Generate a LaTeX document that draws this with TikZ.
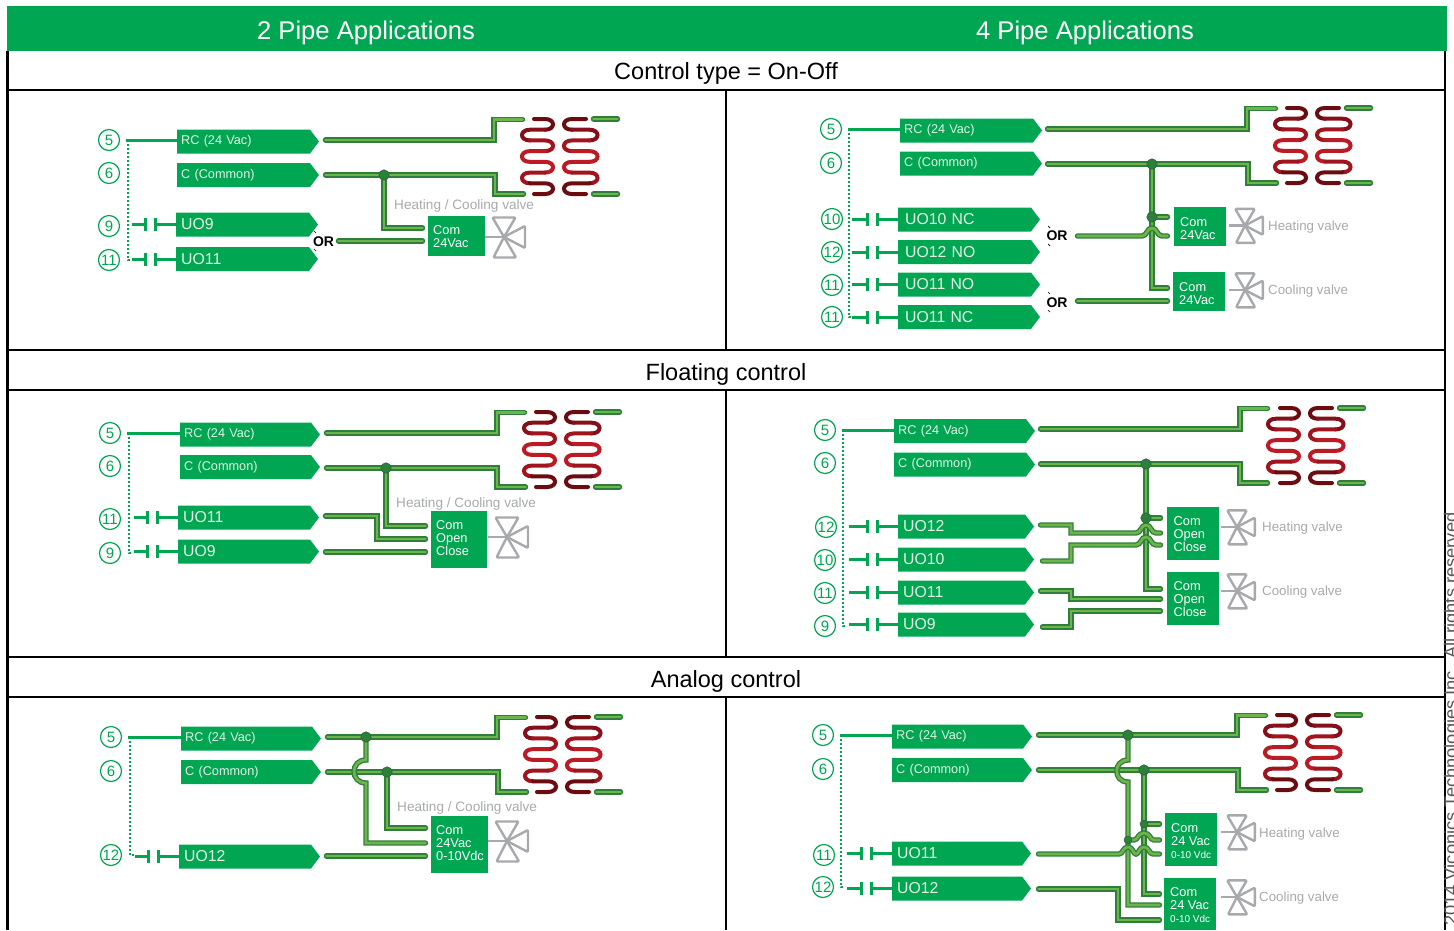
\documentclass[tikz,border=0pt]{standalone}
\usepackage{fontspec}
\setmainfont{Liberation Sans}
\definecolor{brand}{HTML}{00A651}
\definecolor{pipedark}{HTML}{2F7F3C}
\definecolor{pipelight}{HTML}{6DB54B}
\definecolor{valvegray}{HTML}{A7A9AC}
\definecolor{tagtextc}{HTML}{E4F3E6}
\definecolor{coilA}{HTML}{6A0C10}
\definecolor{coilB}{HTML}{85101A}
\definecolor{coilC}{HTML}{A0141E}
\definecolor{coilD}{HTML}{BC1A24}
\tikzset{
  framing/.style={draw=black,line width=2.4pt},
  title/.style={font=\fontsize{23.5}{26}\selectfont,inner sep=0pt},
  headline/.style={font=\fontsize{25.6}{28}\selectfont,text=white,inner sep=0pt},
  tagfill/.style={fill=brand},
  tagtext/.style={anchor=west,inner sep=0pt,inner xsep=4pt,minimum height=24pt,text=tagtextc,align=left},
  tagS/.style={font=\fontsize{12.7}{14}\selectfont},
  tagL/.style={font=\fontsize{15.8}{17}\selectfont,inner xsep=5pt},
  numcirc/.style={circle,draw=brand,fill=white,line width=1.2pt,minimum size=21pt,inner sep=0pt,text=brand,font=\fontsize{15}{16}\selectfont},
  wire/.style={draw=brand,line width=3pt},
  dotwire/.style={draw=brand,line width=2.6pt,dash pattern=on 2pt off 2pt},
  pipeline/.style={draw=pipedark,double=pipelight,double distance=2.7pt,line width=1.35pt,line cap=round,line join=miter,shorten <=2.5pt,shorten >=2.5pt},
  junct/.style={circle,fill=pipedark,draw=pipedark!80!black,line width=.5pt,minimum size=10.5pt,inner sep=0pt},
  vbxnode/.style={anchor=north west,fill=brand,inner sep=0pt},
  vbxtext/.style={anchor=west,xshift=5.5pt,text=white,inner sep=0pt,align=left,font=\fontsize{12.8}{13}\selectfont},
  valvest/.style={draw=valvegray,line width=2.4pt,line join=round,rounded corners=1pt},
  vlabel/.style={anchor=west,yshift=-1pt,inner sep=0pt,text=valvegray,font=\fontsize{13.3}{15}\selectfont},
  hclabel/.style={anchor=west,inner sep=0pt,text=valvegray,font=\fontsize{13.6}{15}\selectfont},
  orlab/.style={inner sep=0pt,font=\bfseries\fontsize{14}{15}\selectfont},
  ormark/.style={draw=black,line width=.7pt},
  coilst/.style={line width=4pt,line cap=round}
}
\newcommand\tagbox[6]{%
  \fill[tagfill] (#2,#3-12) -- (#2+#4-9,#3-12) -- (#2+#4,#3) -- (#2+#4-9,#3+12) -- (#2,#3+12) -- cycle;
  \node[tagtext,#5,text width={(#4-10)*1pt}] (#1) at (#2,#3) {\raisebox{-2pt}{#6}};}
\newcommand\contact[2]{%
  \draw[wire] ([xshift=-31-#2]#1.west) -- ([xshift=-31]#1.west);
  \draw[wire] ([xshift=-31,yshift=6.5]#1.west) -- ([xshift=-31,yshift=-6.5]#1.west);
  \draw[wire] ([xshift=-21,yshift=6.5]#1.west) -- ([xshift=-21,yshift=-6.5]#1.west);
  \draw[wire] ([xshift=-21]#1.west) -- (#1.west);}
\newcommand\vbx[7][]{%
  \node[vbxnode,minimum width={(#4-#2)*1pt},minimum height={(#5-#3)*1pt}] (#6) at (#2,#3) {};
  \node[vbxtext,#1] (#6t) at (#6.west) {#7};}
\newcommand\valvesym[3]{%
  \begin{scope}[shift={(#1,#2)},scale=#3]
    \draw[valvest] (-11.5,-19.5) -- (11.5,-19.5) -- (0,0) -- cycle;
    \draw[valvest] (21,-11) -- (21,11) -- (0,0) -- cycle;
    \draw[valvest] (-10.5,20.5) -- (12,20.5) -- (0,0) -- cycle;
    \draw[draw=valvegray,line width=2.4pt] (-19,0) -- (0,0);
  \end{scope}}
\newcommand\hop[2]{ -- (#1-10,#2) .. controls (#1-5,#2) and (#1-5,#2-8) .. (#1,#2-8) .. controls (#1+5,#2-8) and (#1+5,#2) .. (#1+10,#2)}
\newcommand\coilone[4]{% open end, first-side x, second-side x, control offset
  \foreach \i/\col in {0/coilA,1/coilB,2/coilC,3/coilD,4/coilD,5/coilC,6/coilA}{%
    \pgfmathsetmacro\ya{119+\i*10.714}
    \pgfmathsetmacro\yb{119+(\i+1)*10.714}
    \ifnum\i=0
      \draw[coilst,draw=\col] (#1,\ya) -- (#2,\ya) .. controls (#2+#4,\ya) and (#2+#4,\yb) .. (#2,\yb);
    \else\ifnum\i=6
      \draw[coilst,draw=\col] (#3,\ya) -- (#2,\ya) .. controls (#2+#4,\ya) and (#2+#4,\yb) .. (#2,\yb) -- (#1,\yb);
    \else\ifodd\i
      \draw[coilst,draw=\col] (#2,\ya) -- (#3,\ya) .. controls (#3-#4,\ya) and (#3-#4,\yb) .. (#3,\yb);
    \else
      \draw[coilst,draw=\col] (#3,\ya) -- (#2,\ya) .. controls (#2+#4,\ya) and (#2+#4,\yb) .. (#2,\yb);
    \fi\fi\fi}}
\newcommand\coilpair[2]{%
  \begin{scope}[shift={(#1,#2)}]
    \coilone{534}{545}{530}{10.7}
    \coilone{586}{572}{589.5}{-10.7}
    \draw[pipeline] (591,119) -- (620,119);
    \draw[pipeline] (591,194) -- (620,194);
  \end{scope}}
\newcommand\ormarks[2]{%
  \draw[ormark] (#1-1,#2-1) -- (#1+1,#2+1);}
\begin{document}
\begin{tikzpicture}[x=1pt,y=-1pt]
\useasboundingbox (0,0) rectangle (1454,930);
% frame
\fill[brand] (6.5,6) rectangle (1447,51);
\draw[framing] (7.5,51) -- (7.5,930);
\draw[framing] (1445,51) -- (1445,930);
\draw[framing] (7.5,90) -- (1445,90);
\draw[framing] (7.5,350) -- (1445,350);
\draw[framing] (7.5,390) -- (1445,390);
\draw[framing] (7.5,657) -- (1445,657);
\draw[framing] (7.5,697) -- (1445,697);
\draw[framing] (726,90) -- (726,350);
\draw[framing] (726,390) -- (726,657);
\draw[framing] (726,697) -- (726,930);
\node[headline] (h2) at (366,32.5) {2 Pipe Applications};
\node[headline] (h4) at (1085,32.5) {4 Pipe Applications};
\node[title] (t1) at (726,73.5) {Control type = On-Off};
\node[title] (t2) at (726,374.5) {Floating control};
\node[title] (t3) at (726,681.5) {Analog control};
\node[rotate=90,anchor=base west,inner sep=0pt,text=black!65,font=\fontsize{18.3}{19}\selectfont] (copyr) at (1457,926) {2014 Viconics Technologies Inc. All rights reserved};

%%%%% Panel A
\node[numcirc] (ac1) at (109,140) {5};
\node[numcirc] (ac2) at (109,173) {6};
\node[numcirc] (ac3) at (109,226) {9};
\node[numcirc] (ac4) at (109,260) {11};
\tagbox{at1}{177}{141.5}{142}{tagS}{RC (24 Vac)}
\tagbox{at2}{177}{175}{142}{tagS}{C (Common)}
\tagbox{at3}{176}{224.5}{142}{tagL}{UO9}
\tagbox{at4}{176}{259}{142}{tagL}{UO11}
\draw[wire] ([xshift=6]ac1.east) -- (ac1.east -| at1.west);
\draw[dotwire] ([xshift=8]ac1.east) -- ([xshift=8]ac4.east) -- ++(4,0);
\contact{at3}{13}
\contact{at4}{13}
\node[orlab] (aor) at (323.5,242) {OR};
\ormarks{315}{232}\ormarks{315}{250}
\vbx[xshift=-.5pt]{428}{216}{485}{256}{ab}{Com\\24Vac}
\valvesym{504}{237}{1}
\node[hclabel] (al) at (394,205.5) {Heating / Cooling valve};
\coordinate (aj) at (384,175);
\coordinate (ae1) at (425,228);
\coordinate (ae2) at (425,241);
\coordinate (as1) at (323,140);
\coordinate (as2) at (323,175);
\coordinate (as3) at (336,241);
\coilpair{0}{0}
\draw[pipeline] (as1) -- (494,140) -- (494,119.5) -- (525,119.5);
\draw[pipeline] (as2) -- (495,175) -- (495,194) -- (526,194);
\draw[pipeline] (aj) |- (ae1);
\draw[pipeline] (as3) -- (ae2);
\node[junct] (ajn) at (aj) {};

%%%%% Panel B
\node[numcirc] (bc1) at (831,129) {5};
\node[numcirc] (bc2) at (831,163) {6};
\node[numcirc] (bc3) at (832,219) {10};
\node[numcirc] (bc4) at (832,252) {12};
\node[numcirc] (bc5) at (832,285) {11};
\node[numcirc] (bc6) at (832,317) {11};
\tagbox{bt1}{900}{130.5}{142}{tagS}{RC (24 Vac)}
\tagbox{bt2}{900}{163.5}{142}{tagS}{C (Common)}
\tagbox{bt3}{898}{219.5}{142}{tagL,inner xsep=7pt}{UO10 NC}
\tagbox{bt4}{898}{252}{142}{tagL,inner xsep=7pt}{UO12 NO}
\tagbox{bt5}{898}{284.5}{142}{tagL,inner xsep=7pt}{UO11 NO}
\tagbox{bt6}{898}{317}{142}{tagL,inner xsep=7pt}{UO11 NC}
\draw[wire] ([xshift=6]bc1.east) -- (bc1.east -| bt1.west);
\draw[dotwire] ([xshift=7]bc1.east) -- ([xshift=6]bc6.east) -- ++(4,0);
\contact{bt3}{15}
\contact{bt4}{15}
\contact{bt5}{15}
\contact{bt6}{15}
\node[orlab] (bor1) at (1057,236) {OR};
\node[orlab] (bor2) at (1057,303) {OR};
\ormarks{1049}{227}\ormarks{1049}{245}\ormarks{1049}{293}\ormarks{1049}{311}
\vbx[xshift=.5pt,yshift=-2pt]{1174}{207}{1226}{246}{bb1}{Com\\24Vac}
\vbx[xshift=.5pt,yshift=-2pt]{1173}{272}{1225}{311}{bb2}{Com\\24Vac}
\valvesym{1245}{225.5}{.85}
\valvesym{1245}{290}{.85}
\node[vlabel] (bl1) at (1268,226) {Heating valve};
\node[vlabel] (bl2) at (1268,290) {Cooling valve};
\coordinate (bj1) at (1152,164);
\coordinate (bj2) at (1152,217);
\coordinate (bs1) at (1045,129);
\coordinate (bs2) at (1045,164);
\coordinate (bs3) at (1075,236);
\coordinate (bs4) at (1075,301);
\coordinate (be1) at (1170,217);
\coordinate (be2) at (1170,236);
\coordinate (be3) at (1170,288);
\coordinate (be4) at (1170,301);
\coilpair{753}{-11}
\draw[pipeline] (bs1) -- (1247,129) -- (1247,108.5) -- (1278,108.5);
\draw[pipeline] (bs2) -- (1248,164) -- (1248,183) -- (1279,183);
\draw[pipeline] (bj1) |- (be3);
\draw[pipeline] (bj2) -- (be1);
\draw[pipeline] (bs3) \hop{1152}{236} -- (be2);
\draw[pipeline] (bs4) -- (be4);
\node[junct] (bj1n) at (bj1) {};
\node[junct] (bj2n) at (bj2) {};

%%%%% Panel C
\node[numcirc] (cc1) at (110,433) {5};
\node[numcirc] (cc2) at (110,466) {6};
\node[numcirc] (cc3) at (110,519) {11};
\node[numcirc] (cc4) at (110,553) {9};
\tagbox{ct1}{180}{434.5}{140}{tagS}{RC (24 Vac)}
\tagbox{ct2}{180}{467}{140}{tagS}{C (Common)}
\tagbox{ct3}{178}{517.5}{141}{tagL}{UO11}
\tagbox{ct4}{178}{551.5}{141}{tagL}{UO9}
\draw[wire] ([xshift=6]cc1.east) -- (cc1.east -| ct1.west);
\draw[dotwire] ([xshift=8]cc1.east) -- ([xshift=8]cc4.east) -- ++(4,0);
\contact{ct3}{13}
\contact{ct4}{13}
\vbx[xshift=-.5pt,yshift=1.5pt]{431}{511}{487}{568}{cb}{Com\\Open\\Close}
\valvesym{507}{537}{1}
\node[hclabel] (cl) at (396,503.5) {Heating / Cooling valve};
\coordinate (cj) at (386,468);
\coordinate (cs1) at (324,433);
\coordinate (cs2) at (324,468);
\coordinate (cs3) at (323,516);
\coordinate (cs4) at (323,552);
\coordinate (ce1) at (428,526);
\coordinate (ce2) at (428,539);
\coordinate (ce3) at (428,552);
\coilpair{2}{293}
\draw[pipeline] (cs1) -- (497,433) -- (497,412.5) -- (527,412.5);
\draw[pipeline] (cs2) -- (497,468) -- (497,487) -- (528,487);
\draw[pipeline] (cj) |- (ce1);
\draw[pipeline] (cs3) -- (377,516) -- (377,539) -- (ce2);
\draw[pipeline] (cs4) -- (ce3);
\node[junct] (cjn) at (cj) {};

%%%%% Panel D
\node[numcirc] (dc1) at (825,430) {5};
\node[numcirc] (dc2) at (825,463) {6};
\node[numcirc] (dc3) at (826,527) {12};
\node[numcirc] (dc4) at (825,560) {10};
\node[numcirc] (dc5) at (825,593) {11};
\node[numcirc] (dc6) at (825,626) {9};
\tagbox{dt1}{894}{431}{141}{tagS}{RC (24 Vac)}
\tagbox{dt2}{894}{464.5}{141}{tagS}{C (Common)}
\tagbox{dt3}{898}{526.5}{136}{tagL}{UO12}
\tagbox{dt4}{898}{559.5}{136}{tagL}{UO10}
\tagbox{dt5}{898}{592.5}{136}{tagL}{UO11}
\tagbox{dt6}{898}{624.5}{136}{tagL}{UO9}
\draw[wire] ([xshift=6]dc1.east) -- (dc1.east -| dt1.west);
\draw[dotwire] ([xshift=7]dc1.east) -- ([xshift=7]dc6.east) -- ++(4,0);
\contact{dt3}{18}
\contact{dt4}{18}
\contact{dt5}{18}
\contact{dt6}{18}
\vbx[xshift=1pt,yshift=-.5pt]{1167}{507}{1219}{560}{db1}{Com\\Open\\Close}
\vbx[xshift=1pt,yshift=-.5pt]{1167}{572}{1219}{625}{db2}{Com\\Open\\Close}
\valvesym{1237}{527}{.85}
\valvesym{1237}{591}{.85}
\node[vlabel] (dl1) at (1262,527) {Heating valve};
\node[vlabel] (dl2) at (1262,591) {Cooling valve};
\coordinate (dj1) at (1146,464);
\coordinate (dj2) at (1146,518);
\coordinate (ds1) at (1038,429);
\coordinate (ds2) at (1038,464);
\coordinate (ds3) at (1038,525);
\coordinate (ds4) at (1040,561);
\coordinate (ds5) at (1038,591);
\coordinate (ds6) at (1040,627);
\coordinate (de1) at (1163,518);
\coordinate (de2) at (1163,533);
\coordinate (de3) at (1163,545);
\coordinate (de4) at (1163,589);
\coordinate (de5) at (1163,599);
\coordinate (de6) at (1163,611);
\coilpair{746}{289}
\draw[pipeline] (ds1) -- (1240,429) -- (1240,408.5) -- (1270,408.5);
\draw[pipeline] (ds2) -- (1240,464) -- (1240,483) -- (1270,483);
\draw[pipeline] (dj1) |- (de4);
\draw[pipeline] (dj2) -- (de1);
\draw[pipeline] (ds3) -- (1071,525) -- (1071,533) \hop{1146}{533} -- (de2);
\draw[pipeline] (ds4) -- (1071,561) -- (1071,545) \hop{1146}{545} -- (de3);
\draw[pipeline] (ds5) -- (1071,591) -- (1071,599) -- (de5);
\draw[pipeline] (ds6) -- (1071,627) -- (1071,611) -- (de6);
\node[junct] (dj1n) at (dj1) {};
\node[junct] (dj2n) at (dj2) {};

%%%%% Panel E
\node[numcirc] (ec1) at (111,737) {5};
\node[numcirc] (ec2) at (111,771) {6};
\node[numcirc] (ec3) at (111,855) {12};
\tagbox{et1}{181}{738.5}{140}{tagS}{RC (24 Vac)}
\tagbox{et2}{181}{772}{140}{tagS}{C (Common)}
\tagbox{et3}{179}{856.5}{141}{tagL}{UO12}
\draw[wire] ([xshift=6]ec1.east) -- (ec1.east -| et1.west);
\draw[dotwire] ([xshift=8]ec1.east) -- ([xshift=8]ec3.east) -- ++(4,0);
\contact{et3}{13}
\vbx[xshift=-.5pt,yshift=2pt]{431}{816}{488}{873}{eb}{Com\\24Vac\\0-10Vdc}
\valvesym{507}{841}{1}
\node[hclabel] (el) at (397,807.5) {Heating / Cooling valve};
\coordinate (ej1) at (366,737);
\coordinate (ej2) at (387,772);
\coordinate (es1) at (325,737);
\coordinate (es2) at (325,772);
\coordinate (es3) at (324,856);
\coordinate (ee1) at (428,828);
\coordinate (ee2) at (428,843);
\coordinate (ee3) at (428,856);
\coilpair{3}{598}
\draw[pipeline] (es1) -- (497,737) -- (497,717.5) -- (528,717.5);
\draw[pipeline] (es2) -- (498,772) -- (498,792) -- (529,792);
\draw[pipeline] (ej2) |- (ee1);
\draw[pipeline,shorten <=0pt] (ej1) -- (366,760) .. controls (350,760) and (350,783) .. (366,783) |- (ee2);
\draw[pipeline] (es3) -- (ee3);
\node[junct] (ej1n) at (ej1) {};
\node[junct] (ej2n) at (ej2) {};

%%%%% Panel F
\node[numcirc] (fc1) at (823,735) {5};
\node[numcirc] (fc2) at (823,769) {6};
\node[numcirc] (fc3) at (824,855) {11};
\node[numcirc] (fc4) at (823,887) {12};
\tagbox{ft1}{892}{736.5}{140}{tagS}{RC (24 Vac)}
\tagbox{ft2}{892}{770}{140}{tagS}{C (Common)}
\tagbox{ft3}{892}{853.5}{139}{tagL}{UO11}
\tagbox{ft4}{892}{888.5}{139}{tagL}{UO12}
\draw[wire] ([xshift=6]fc1.east) -- (fc1.east -| ft1.west);
\draw[dotwire] ([xshift=7]fc1.east) -- ([xshift=7]fc4.east) -- ++(4,0);
\contact{ft3}{14}
\contact{ft4}{14}
\vbx[xshift=.5pt,yshift=-1pt]{1165}{813}{1217}{866}{fb1}{Com\\24 Vac\\{\fontsize{10}{13}\selectfont 0-10 Vdc}}
\vbx[xshift=.5pt,yshift=-1pt]{1164}{878}{1216}{930}{fb2}{Com\\24 Vac\\{\fontsize{10}{13}\selectfont 0-10 Vdc}}
\valvesym{1237}{832}{.85}
\valvesym{1237}{897}{.85}
\node[vlabel] (fl1) at (1259,833) {Heating valve};
\node[vlabel] (fl2) at (1259,897) {Cooling valve};
\coordinate (fj1) at (1128,735);
\coordinate (fj2) at (1144,770);
\coordinate (fj3) at (1144,824);
\coordinate (fj4) at (1128,840);
\coordinate (fs1) at (1036,735);
\coordinate (fs2) at (1036,770);
\coordinate (fs3) at (1036,854);
\coordinate (fs4) at (1036,889);
\coordinate (fe1) at (1162,824);
\coordinate (fe2) at (1162,840);
\coordinate (fe3) at (1162,854);
\coordinate (fe4) at (1162,894);
\coordinate (fe5) at (1162,905);
\coordinate (fe6) at (1162,920);
\coilpair{743}{596}
\draw[pipeline] (fs1) -- (1237,735) -- (1237,715.5) -- (1268,715.5);
\draw[pipeline] (fs2) -- (1238,770) -- (1238,790) -- (1269,790);
\draw[pipeline,shorten <=0pt] (fj1) -- (1128,760) .. controls (1113,760) and (1113,782) .. (1128,782) |- (fe5);
\draw[pipeline,shorten <=0pt] (fj2) |- (fe4);
\draw[pipeline,shorten <=0pt] (fj3) -- (fe1);
\draw[pipeline,shorten <=0pt] (fj4) -- (1134,840) .. controls (1138,840) and (1138,833) .. (1144,833) .. controls (1150,833) and (1150,840) .. (1154,840) -- (fe2);
\draw[pipeline] (fs3) -- (1119,854) .. controls (1123,854) and (1123,847) .. (1128,847) .. controls (1133,847) and (1133,854) .. (1136,854) .. controls (1139,854) and (1139,847) .. (1144,847) .. controls (1149,847) and (1149,854) .. (1153,854) -- (fe3);
\draw[pipeline] (fs4) -- (1118,889) -- (1118,920) -- (fe6);
\node[junct] (fj1n) at (fj1) {};
\node[junct] (fj2n) at (fj2) {};
\node[junct,minimum size=8pt] (fj3n) at (fj3) {};
\node[junct,minimum size=8pt] (fj4n) at (fj4) {};
\end{tikzpicture}
\end{document}
